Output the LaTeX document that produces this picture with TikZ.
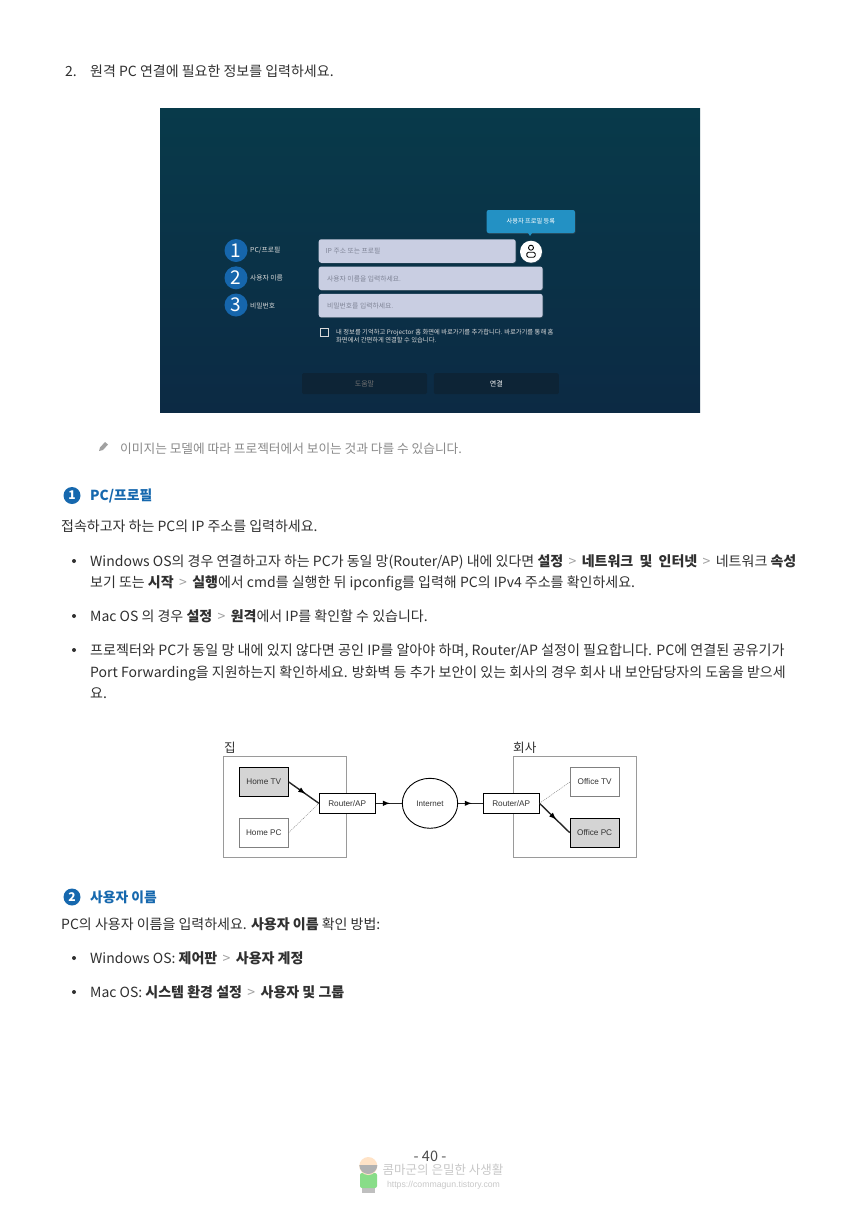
\documentclass[tikz,border=0pt]{standalone}
\usepackage{fontspec}
\setmainfont{Noto Sans CJK KR}
\newfontfamily\latinsans{Liberation Sans}
\usetikzlibrary{arrows}
\usetikzlibrary{shapes.geometric}
\usetikzlibrary{shadows}
\usetikzlibrary{decorations.markings}
\definecolor{bodyink}{HTML}{303030}
\definecolor{noteink}{HTML}{8A8A8A}
\definecolor{headblue}{HTML}{1668AE}
\definecolor{badgeblue}{HTML}{1666AC}
\definecolor{fieldfill}{HTML}{C9CEE2}
\definecolor{fieldink}{HTML}{7F8496}
\definecolor{tipblue}{HTML}{2391C4}
\definecolor{screentop}{HTML}{083A4A}
\definecolor{screenmid}{HTML}{0B3E56}
\definecolor{screenbot}{HTML}{0C2A44}
\definecolor{btnfill}{HTML}{0D2436}
\definecolor{devicegray}{HTML}{D4D4D4}
\definecolor{boxgray}{HTML}{9A9A9A}
\definecolor{markgray}{HTML}{C8C8C8}
\newcommand{\nxt}{{\color{noteink!80}\hspace{5.4pt}>\hspace{5.4pt}}}
\tikzset{
  softshadow/.style={drop shadow={opacity=.25,shadow xshift=.6pt,shadow yshift=-.8pt}},
  bodytext/.style={anchor=base west,inner sep=0pt,text=bodyink,font=\fontsize{14}{16}\selectfont},
  headtext/.style={anchor=base west,inner sep=0pt,text=headblue,font=\fontsize{13.8}{16}\selectfont\bfseries},
  bulletdot/.style={circle,fill=bodyink,inner sep=0pt,minimum size=4pt},
  headbadge/.style={circle,fill=headblue,text=white,inner sep=0pt,minimum size=17pt,font=\fontsize{12}{12}\selectfont\bfseries},
  screenbadge/.style={circle,fill=badgeblue,text=white,inner sep=0pt,minimum size=23pt,font=\fontsize{19}{19}\selectfont},
  screenlabel/.style={anchor=west,inner sep=0pt,text=white!85!black,font=\fontsize{6.8}{8}\selectfont},
  fieldbox/.style={rounded corners=2.5pt,fill=fieldfill,inner sep=0pt,minimum height=23.5pt,softshadow},
  fieldtext/.style={anchor=west,inner sep=0pt,text=fieldink,font=\fontsize{6.8}{8}\selectfont},
  btnbox/.style={rounded corners=1.5pt,fill=btnfill,inner sep=0pt,minimum width=125pt,minimum height=21pt,font=\fontsize{7}{8}\selectfont},
  devicebox/.style={draw=black!50,fill=white,line width=.6pt,inner sep=0pt,minimum width=49pt,minimum height=29.5pt,text=black!80,font=\latinsans\fontsize{8.2}{9}\selectfont},
  routerbox/.style={draw=black,fill=white,line width=.9pt,inner sep=0pt,minimum width=55.7pt,minimum height=20pt,text=black!80,font=\latinsans\fontsize{8.2}{9}\selectfont},
  zonebox/.style={draw=boxgray,line width=.8pt,inner sep=0pt,minimum width=123.4pt,minimum height=101pt},
  thinlink/.style={draw=black!55,dashed,dash pattern=on 1pt off 1pt,line width=.4pt},
  thicklink/.style={line width=1.4pt,draw=black!85,postaction={decorate},decoration={markings,mark=at position .55 with {\arrow[black]{latex}}}}
}
\begin{document}
\begin{tikzpicture}[x=1pt,y=-1pt]
\useasboundingbox[fill=white] (0,0) rectangle (860,1216);
\node (steptwo) at (65,76) [bodytext] {2.};
\node (steptext) at (90,76) [bodytext] {원격 PC 연결에 필요한 정보를 입력하세요.};

\shade[top color=screentop,middle color=screenmid,bottom color=screenbot] (160,108) rectangle (700,412);
\node (tip) at (530.8,221.5) [rounded corners=2pt,fill=tipblue,text=white,inner sep=0pt,minimum width=88.3pt,minimum height=23pt,softshadow,font=\fontsize{6.2}{8}\selectfont] {사용자 프로필 등록};
\fill[tipblue] (528,233) -- (532,233) -- (530,236) -- cycle;
\node (badgeone) at (236,250.5) [screenbadge] {1};
\node (badgetwo) at (236,277.8) [screenbadge] {2};
\node (badgethree) at (236,305) [screenbadge] {3};
\node (labelone) at (250,250.5) [screenlabel] {PC/프로필};
\node (labeltwo) at (250,277.8) [screenlabel] {사용자 이름};
\node (labelthree) at (250,305.5) [screenlabel] {비밀번호};
\node (fieldone) at (417.2,251) [fieldbox,minimum width=197pt] {};
\node (fieldtwo) at (430.7,278.3) [fieldbox,minimum width=224pt] {};
\node (fieldthree) at (430.7,305.6) [fieldbox,minimum width=224pt] {};
\node (fieldonetext) at (325.5,250.5) [fieldtext] {IP 주소 또는 프로필};
\node (fieldtwotext) at (327,278.8) [fieldtext] {사용자 이름을 입력하세요.};
\node (fieldthreetext) at (327,305.6) [fieldtext] {비밀번호를 입력하세요.};
\node (profile) at (531,251.7) [circle,fill=white,inner sep=0pt,minimum size=22pt,softshadow] {};
\draw[black,line width=.9pt] (531,247.7) circle (2.5pt);
\draw[black,line width=.9pt,rounded corners=1.5pt] (526.8,257.2) -- (526.8,252.2) -- (535.2,252.2) -- (535.2,257.2) -- cycle;
\node (checkbox) at (324,332.7) [draw=white!85!black,line width=.7pt,inner sep=0pt,minimum size=8pt] {};
\node (checkone) at (336,333) [screenlabel,font=\fontsize{6.3}{8}\selectfont] {내 정보를 기억하고 Projector 홈 화면에 바로가기를 추가합니다. 바로가기를 통해 홈};
\node (checktwo) at (336,340.5) [screenlabel,font=\fontsize{6.3}{8}\selectfont] {화면에서 간편하게 연결할 수 있습니다.};
\node (helpbtn) at (364.5,383.7) [btnbox,text=white!45!black] {도움말};
\node (connectbtn) at (496.3,383.7) [btnbox,text=white] {연결};

\fill[noteink!80] (99,451) -- (100,447.5) -- (105,442) -- (108,444.5) -- (103,450) -- cycle;
\node (note) at (120,453.5) [bodytext,text=noteink,font=\fontsize{12.7}{14}\selectfont] {이미지는 모델에 따라 프로젝터에서 보이는 것과 다를 수 있습니다.};

\node (headone) at (72,495.5) [headbadge] {1};
\node (headonetext) at (90,500.5) [headtext] {PC/프로필};
\node (introone) at (61,531) [bodytext] {접속하고자 하는 PC의 IP 주소를 입력하세요.};

\node (dotone) at (74,561) [bulletdot] {};
\node (lineone) at (90,566) [bodytext] {Windows OS의 경우 연결하고자 하는 PC가 동일 망(Router/AP) 내에 있다면 \textbf{설정}\nxt\textbf{네트워크\hspace{3pt} 및\hspace{3pt} 인터넷}\nxt 네트워크 \textbf{속성}};
\node (linetwo) at (90,587) [bodytext] {보기 또는 \textbf{시작}\nxt\textbf{실행}에서 cmd를 실행한 뒤 ipconfig를 입력해 PC의 IPv4 주소를 확인하세요.};
\node (dottwo) at (74,616) [bulletdot] {};
\node (linethree) at (90,621) [bodytext] {Mac OS 의 경우 \textbf{설정}\nxt\textbf{원격}에서 IP를 확인할 수 있습니다.};
\node (dotthree) at (74,650) [bulletdot] {};
\node (linefour) at (90,655) [bodytext,font=\fontsize{14.12}{16}\selectfont] {프로젝터와 PC가 동일 망 내에 있지 않다면 공인 IP를 알아야 하며, Router/AP 설정이 필요합니다. PC에 연결된 공유기가};
\node (linefive) at (90,677) [bodytext] {Port Forwarding을 지원하는지 확인하세요. 방화벽 등 추가 보안이 있는 회사의 경우 회사 내 보안담당자의 도움을 받으세};
\node (linesix) at (90,698) [bodytext] {요.};

\node (homezone) at (285,806.5) [zonebox] {};
\node (officezone) at (575,806.5) [zonebox] {};
\node (hometitle) at (224,752) [bodytext,font=\fontsize{12.6}{14}\selectfont] {집};
\node (officetitle) at (513,752) [bodytext,font=\fontsize{12.6}{14}\selectfont] {회사};
\node (hometv) at (263.8,782) [devicebox,fill=devicegray,draw=black,line width=.9pt] {Home TV};
\node (homepc) at (263.8,832.7) [devicebox] {Home PC};
\node (routerl) at (347.2,803.3) [routerbox] {Router/AP};
\node (internet) at (430,803.3) [ellipse,draw=black,line width=.9pt,inner sep=0pt,minimum width=55.4pt,minimum height=50pt,text=black!80,font=\latinsans\fontsize{8}{9}\selectfont] {Internet};
\node (routerr) at (511.2,803.3) [routerbox] {Router/AP};
\node (officetv) at (594.7,782) [devicebox] {Office TV};
\node (officepc) at (594.7,832.7) [devicebox,fill=devicegray,draw=black,line width=.9pt] {Office PC};
\draw[thicklink] (hometv.east) -- (routerl.west);
\draw[thinlink] (homepc.east) -- (routerl.west);
\draw[thicklink] (routerl) -- (internet);
\draw[thicklink] (internet) -- (routerr);
\draw[thinlink] (routerr.east) -- (officetv.west);
\draw[thicklink] (routerr.east) -- (officepc.west);

\node (headtwo) at (72,897) [headbadge] {2};
\node (headtwotext) at (90,902.5) [headtext] {사용자 이름};
\node (introtwo) at (61,929) [bodytext] {PC의 사용자 이름을 입력하세요. \textbf{사용자 이름} 확인 방법:};
\node (dotfour) at (74,958) [bulletdot] {};
\node (lineseven) at (90,963) [bodytext] {Windows OS: \textbf{제어판}\nxt\textbf{사용자 계정}};
\node (dotfive) at (74,992) [bulletdot] {};
\node (lineeight) at (90,997) [bodytext] {Mac OS: \textbf{시스템 환경 설정}\nxt\textbf{사용자 및 그룹}};

\fill[gray!50] (362,1188) rectangle (375,1193);
\fill[green!55!gray!60,rounded corners=2pt] (360,1173) rectangle (377,1188);
\fill[orange!22] (368.3,1166) circle (9pt);
\fill[gray!60] (359.3,1165) arc (180:360:9pt) -- cycle;
\node (pagenum) at (430,1156.5) [inner sep=0pt,text=black!70,font=\fontsize{14.5}{16}\selectfont] {- 40 -};
\node (mark) at (443,1170) [inner sep=0pt,text=markgray,font=\fontsize{12.5}{14}\selectfont] {콤마군의 은밀한 사생활};
\node (markurl) at (443.5,1185.5) [inner sep=0pt,text=markgray,font=\latinsans\fontsize{8.7}{10}\selectfont] {https://commagun.tistory.com};
\end{tikzpicture}
\end{document}
